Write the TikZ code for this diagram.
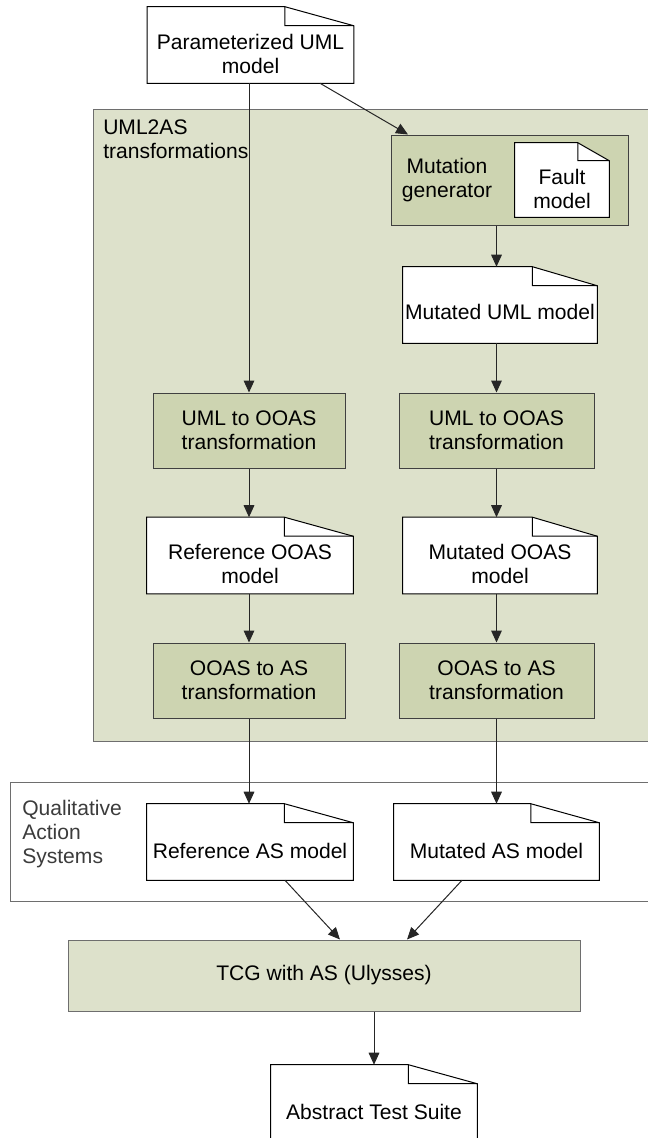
\documentclass[tikz,border=0pt]{standalone}
\usepackage{fontspec}
\setmainfont{Liberation Sans}
\usetikzlibrary{arrows.meta,calc}

\definecolor{paleSage}{HTML}{DDE1CB}
\definecolor{sage}{HTML}{CDD4B1}
\definecolor{frameGray}{HTML}{6E6E6E}
\definecolor{labelGray}{HTML}{3C3C3C}

\tikzset{
  every node/.style={font=\fontsize{15.8}{18}\selectfont},
  region/.style={draw=frameGray, line width=0.9pt},
  stepbox/.style={draw=black!75, fill=sage, line width=0.75pt, align=center, inner sep=0pt},
  docbox/.style={inner sep=0pt},
  doctext/.style={align=center, inner sep=0pt},
  arr/.style={draw=black!85, line width=0.75pt, -{Triangle[length=9pt,width=8pt]}},
}

% folded-corner document outline around a named node
\newcommand\docOutline[2][19]{%
  \draw[black, line width=0.75pt, fill=white]
    (#2.north west) -- ($(#2.north east)!0.333!(#2.north west)$)
    -- ($(#2.north east)+(0,#1)$) -- (#2.south east) -- (#2.south west) -- cycle;
  \draw[black, line width=0.75pt]
    ($(#2.north east)!0.333!(#2.north west)$) -- ($(#2.north east)!0.333!(#2.north west)+(0,#1)$)
    -- ($(#2.north east)+(0,#1)$);
}

\begin{document}
\begin{tikzpicture}[x=0.75pt,y=-0.75pt]
\useasboundingbox (0,0) rectangle (648,1138);
\clip (0,0) rectangle (648,1138);

% ---- regions (sizes in pt: 1px = 0.75pt) ----
\node[region, fill=paleSage, minimum width=425.25pt, minimum height=474pt, anchor=north west, inner sep=0pt] (uml2as) at (93,109) {};
\node[align=left, anchor=north west, inner sep=0pt] (uml2aslbl) at (103,120) {UML2AS\\transformations};

\node[region, fill=white, minimum width=487.5pt, minimum height=89.25pt, anchor=north west, inner sep=0pt] (qas) at (10,782) {};
\node[align=left, anchor=north west, inner sep=0pt, text=labelGray] (qaslbl) at (22,800) {Qualitative\\Action\\Systems};

\tikzset{
  docL/.style={docbox, minimum width=154.5pt, minimum height=57pt},
  docR/.style={docbox, minimum width=145.5pt, minimum height=57pt},
  boxL/.style={stepbox, minimum width=144pt, minimum height=56.25pt},
  boxR/.style={stepbox, minimum width=146.25pt, minimum height=56.25pt},
}

% ---- nodes ----
\node[docL] (param) at (250.5,45) {};
\docOutline{param}
\node[doctext] (paramtxt) at (250.5,54) {Parameterized UML\\model};

\node[stepbox, minimum width=177.75pt, minimum height=67.5pt] (mg) at (509.5,180) {};
\node[doctext] (mgtxt) at (447,180) {Mutation\\generator};
\node[docbox, minimum width=70.5pt, minimum height=55.5pt] (fault) at (562,180) {};
\docOutline[18]{fault}
\node[doctext] (faulttxt) at (562,189) {Fault\\model};

\node[docR] (mutuml) at (500,305) {};
\docOutline{mutuml}
\node[doctext] (mutumltxt) at (500,312) {Mutated UML model};

\node[boxL] (umlL) at (249,430.5) {UML to OOAS\\transformation};
\node[boxR] (umlR) at (496.5,430.5) {UML to OOAS\\transformation};

\node[docL] (refoo) at (250,555.5) {};
\docOutline{refoo}
\node[doctext] (refootxt) at (250,564) {Reference OOAS\\model};

\node[docR] (mutoo) at (500,555.5) {};
\docOutline{mutoo}
\node[doctext] (mutootxt) at (500,564) {Mutated OOAS\\model};

\node[boxL] (ooasL) at (249,680.5) {OOAS to AS\\transformation};
\node[boxR] (ooasR) at (496.5,680.5) {OOAS to AS\\transformation};

\node[docL] (refas) at (250,842) {};
\docOutline{refas}
\node[doctext] (refastxt) at (250,851) {Reference AS model};

\node[docbox, minimum width=153.75pt, minimum height=57pt] (mutas) at (496.5,842) {};
\docOutline{mutas}
\node[doctext] (mutastxt) at (496.5,851) {Mutated AS model};

\node[stepbox, fill=paleSage, draw=frameGray, minimum width=384pt, minimum height=53.25pt] (tcg) at (324,975.5) {TCG with AS (Ulysses)};

\node[docL] (ats) at (374,1103) {};
\docOutline{ats}
\node[doctext] (atstxt) at (374,1112) {Abstract Test Suite};

% ---- connectors ----
\draw[arr] ($(param.south)+(69.5,0)$) -- ($(mg.north)+(-101.5,0)$);
\draw[arr] (param.south -| umlL.north) -- (umlL.north);
\draw[arr] (mg.south -| umlR.north) -- (mutuml.north -| umlR.north);
\draw[arr] (mutuml.south -| umlR.north) -- (umlR.north);
\draw[arr] (umlL.south) -- (umlL.south |- refoo.north);
\draw[arr] (umlR.south) -- (umlR.south |- mutoo.north);
\draw[arr] (ooasL.north |- refoo.south) -- (ooasL.north);
\draw[arr] (ooasR.north |- mutoo.south) -- (ooasR.north);
\draw[arr] (ooasL.south) -- (ooasL.south |- refas.north);
\draw[arr] (ooasR.south) -- (mutas.north);
\draw[arr] ($(refas.south)+(35,0)$) -- ($(tcg.north)+(16,0)$);
\draw[arr] ($(mutas.south)+(-34.5,0)$) -- ($(tcg.north)+(83,0)$);
\draw[arr] (tcg.south -| ats.north) -- (ats.north);
\end{tikzpicture}
\end{document}
